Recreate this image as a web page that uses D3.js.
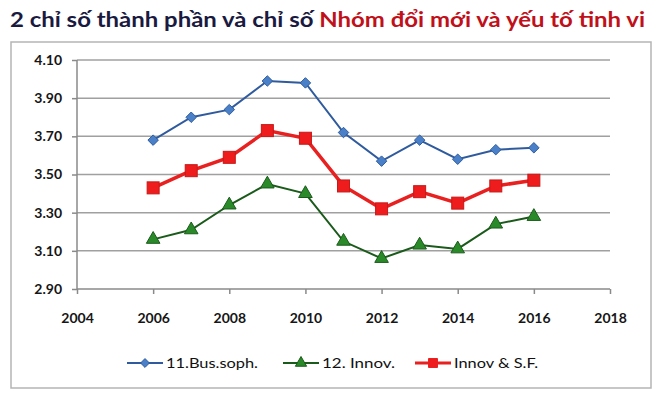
<!DOCTYPE html>
<html>
<head>
<meta charset="utf-8">
<script src="https://cdn.jsdelivr.net/npm/d3@7"></script>
<style>
  body { margin: 0; background: #fff; }
  svg { font-family: Lato, "Open Sans", sans-serif; }
</style>
</head>
<body>
<div id="chart"></div>
<script>
// data
var years = [2006, 2007, 2008, 2009, 2010, 2011, 2012, 2013, 2014, 2015, 2016];
var busSoph = [3.68, 3.80, 3.84, 3.99, 3.98, 3.72, 3.57, 3.68, 3.58, 3.63, 3.64];
var innov = [3.16, 3.21, 3.34, 3.45, 3.40, 3.15, 3.06, 3.13, 3.11, 3.24, 3.28];
var innovSF = [3.43, 3.52, 3.59, 3.73, 3.69, 3.44, 3.32, 3.41, 3.35, 3.44, 3.47];
var yTicks = [2.90, 3.10, 3.30, 3.50, 3.70, 3.90, 4.10];
var xTicks = [2004, 2006, 2008, 2010, 2012, 2014, 2016, 2018];
var seriesNames = ["11.Bus.soph.", "12. Innov.", "Innov & S.F."];

var W = 663, H = 395;
var margin = {top: 60, right: 53, bottom: 106, left: 77},
    width = W - margin.left - margin.right,
    height = H - margin.top - margin.bottom;

var svg = d3.select("#chart").append("svg")
  .attr("width", W)
  .attr("height", H);

// outer frame
svg.append("rect")
  .attr("x", 11).attr("y", 42)
  .attr("width", 640).attr("height", 346)
  .attr("fill", "none")
  .attr("stroke", "#b5b5b5")
  .attr("stroke-width", 1.5);

// title
var title = svg.append("text")
  .attr("x", 10).attr("y", 27)
  .attr("textLength", 635)
  .attr("lengthAdjust", "spacingAndGlyphs")
  .style("font-size", "21px")
  .style("font-weight", "bold");
title.append("tspan").attr("fill", "#1a1a40").text("2 chỉ số thành phần và chỉ số ");
title.append("tspan").attr("fill", "#c0101a").text("Nhóm đổi mới và yếu tố tinh vi");

var g = svg.append("g")
  .attr("transform", "translate(" + margin.left + "," + margin.top + ")");

var x = d3.scaleLinear().domain([2004, 2018]).range([0, width]);
var y = d3.scaleLinear().domain([2.90, 4.10]).range([height, 0]);

// gridlines
g.selectAll(".grid").data(yTicks.slice(1)).enter().append("line")
  .attr("x1", 0).attr("x2", width)
  .attr("y1", function(d) { return y(d); })
  .attr("y2", function(d) { return y(d); })
  .attr("stroke", "#a0a0a0")
  .attr("stroke-width", 1.5);

// axes
var yAxis = g.append("g")
  .call(d3.axisLeft(y).tickValues(yTicks).tickFormat(d3.format(".2f")).tickSize(5).tickPadding(10));
var xAxis = g.append("g")
  .attr("transform", "translate(0," + height + ")")
  .call(d3.axisBottom(x).tickValues(xTicks).tickFormat(d3.format("d")).tickSize(5).tickPadding(19));
[yAxis, xAxis].forEach(function(a) {
  a.selectAll("path, line").attr("stroke", "#8a8a8a").attr("stroke-width", 1.5);
  a.selectAll("text").attr("fill", "#161616")
    .style("font-size", "14px").style("font-weight", "bold")
    .style("font-family", "Lato, sans-serif");
});
yAxis.select(".domain").attr("d", "M0," + height + "V0");
xAxis.select(".domain").attr("d", "M0,0H" + width);

var line = d3.line()
  .x(function(d, i) { return x(years[i]); })
  .y(function(d) { return y(d); });

// blue
g.append("path").datum(busSoph)
  .attr("fill", "none").attr("stroke", "#2f5b9e").attr("stroke-width", 2)
  .attr("d", line);
g.selectAll(".dia").data(busSoph).enter().append("path")
  .attr("transform", function(d, i) { return "translate(" + x(years[i]) + "," + y(d) + ")"; })
  .attr("d", d3.symbol().type(d3.symbolDiamond2).size(70))
  .attr("fill", "#4a80c8").attr("stroke", "#2f5b9e").attr("stroke-width", 1);

// green
g.append("path").datum(innov)
  .attr("fill", "none").attr("stroke", "#1a5a1a").attr("stroke-width", 2)
  .attr("d", line);
g.selectAll(".tri").data(innov).enter().append("path")
  .attr("transform", function(d, i) { return "translate(" + x(years[i]) + "," + y(d) + ")"; })
  .attr("d", d3.symbol().type(d3.symbolTriangle).size(80))
  .attr("fill", "#2a8a2a").attr("stroke", "#1a5a1a").attr("stroke-width", 1);

// red
g.append("path").datum(innovSF)
  .attr("fill", "none").attr("stroke", "#e82020").attr("stroke-width", 3.5)
  .attr("d", line);
g.selectAll(".sq").data(innovSF).enter().append("rect")
  .attr("x", function(d, i) { return x(years[i]) - 6; })
  .attr("y", function(d) { return y(d) - 6; })
  .attr("width", 12).attr("height", 12)
  .attr("fill", "#ee1c1c").attr("stroke", "#c81818").attr("stroke-width", 1);

// legend
var legendX = [127, 283, 415];
var legendTW = [92, 73, 84];
var legendCol = ["#2f5b9e", "#1a5a1a", "#e82020"];
var legendFill = ["#4a80c8", "#2a8a2a", "#ee1c1c"];
var legendW = [2, 2, 3];
var lg = svg.append("g").attr("transform", "translate(0,363)");
seriesNames.forEach(function(name, i) {
  var lx = legendX[i];
  lg.append("line").attr("x1", lx).attr("x2", lx + 36).attr("y1", 0).attr("y2", 0)
    .attr("stroke", legendCol[i]).attr("stroke-width", legendW[i]);
  var m;
  if (i === 0) {
    m = lg.append("path").attr("d", d3.symbol().type(d3.symbolDiamond2).size(50));
  } else if (i === 1) {
    m = lg.append("path").attr("d", d3.symbol().type(d3.symbolTriangle).size(55));
  } else {
    m = lg.append("path").attr("d", d3.symbol().type(d3.symbolSquare).size(80));
  }
  m.attr("transform", "translate(" + (lx + 18) + ",0)")
    .attr("fill", legendFill[i]).attr("stroke", legendCol[i]).attr("stroke-width", 1);
  lg.append("text").attr("x", lx + 39).attr("y", 5)
    .attr("textLength", legendTW[i]).attr("lengthAdjust", "spacingAndGlyphs")
    .style("font-size", "14px").attr("fill", "#111").text(name);
});
</script>
</body>
</html>
